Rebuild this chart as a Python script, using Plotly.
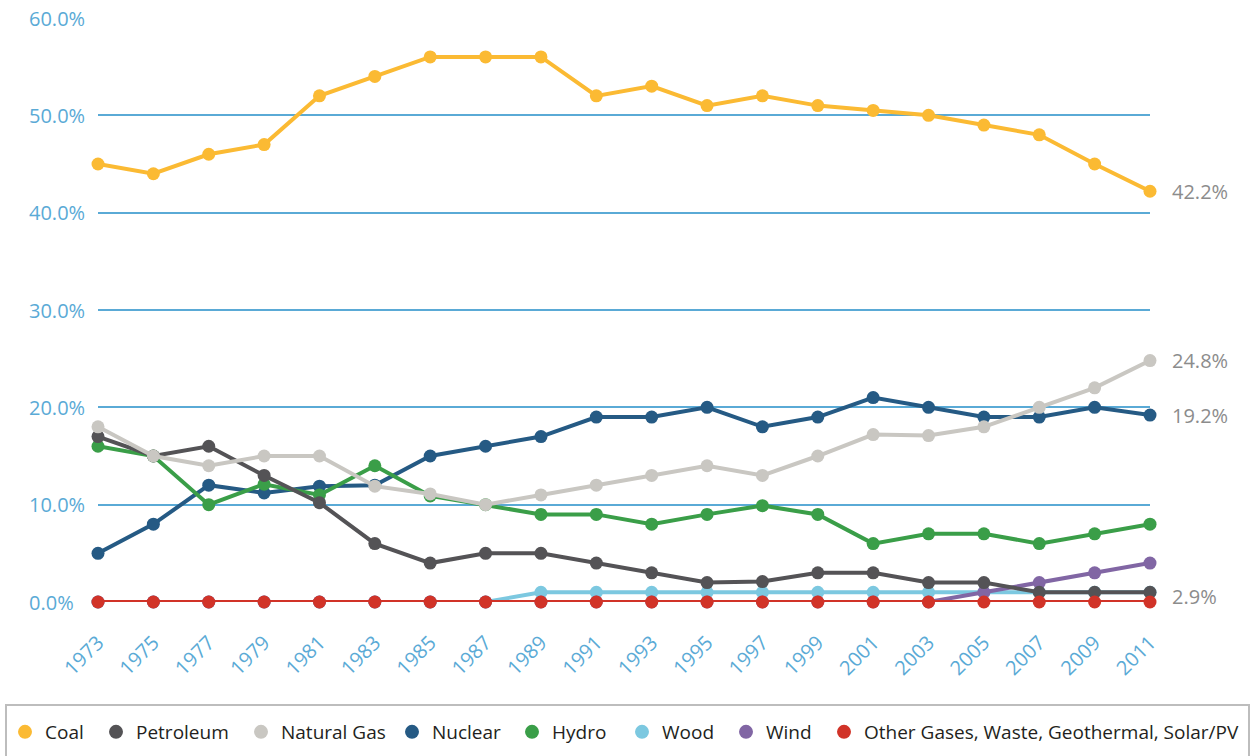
import plotly.graph_objects as go

YEARS = list(range(1973, 2012, 2))

COAL = [45, 44, 46, 47, 52, 54, 56, 56, 56, 52, 53, 51, 52, 51, 50.5, 50, 49, 48, 45, 42.2]
PETROLEUM = [17, 15, 16, 13, 10.2, 6, 4, 5, 5, 4, 3, 2, 2.1, 3, 3, 2, 2, 1, 1, 1]
NATURAL_GAS = [18, 15, 14, 15, 15, 11.9, 11.1, 10, 11, 12, 13, 14, 13, 15, 17.2, 17.1, 18, 20, 22, 24.8]
NUCLEAR = [5, 8, 12, 11.2, 11.9, 12, 15, 16, 17, 19, 19, 20, 18, 19, 21, 20, 19, 19, 20, 19.2]
HYDRO = [16, 15, 10, 12.1, 11, 14, 10.9, 10, 9, 9, 8, 9, 9.9, 9, 6, 7, 7, 6, 7, 8]
WOOD = [0, 0, 0, 0, 0, 0, 0, 0, 1, 1, 1, 1, 1, 1, 1, 1, 1, 1, 1, 1]
WIND = [0, 0, 0, 0, 0, 0, 0, 0, 0, 0, 0, 0, 0, 0, 0, 0, 1, 2, 3, 4]
OTHER = [0] * 20

Y_TICKS = [0, 10, 20, 30, 40, 50, 60]
Y_TICK_TEXT = ["0.0%", "10.0%", "20.0%", "30.0%", "40.0%", "50.0%", "60.0%"]

END_LABELS = [("42.2%", COAL), ("24.8%", NATURAL_GAS), ("19.2%", NUCLEAR), ("2.9%", PETROLEUM)]

SERIES = {
    "Coal": (COAL, "#FBBA33"),
    "Petroleum": (PETROLEUM, "#545356"),
    "Natural Gas": (NATURAL_GAS, "#C9C7C2"),
    "Nuclear": (NUCLEAR, "#255A84"),
    "Hydro": (HYDRO, "#3A9E48"),
    "Wood": (WOOD, "#7CC8E0"),
    "Wind": (WIND, "#8166A4"),
    "Other Gases, Waste, Geothermal, Solar/PV": (OTHER, "#D13328"),
}

# drawing order (bottom to top) differs from the legend order
DRAW_ORDER = ["Wood", "Wind", "Coal", "Nuclear", "Hydro", "Petroleum", "Natural Gas",
              "Other Gases, Waste, Geothermal, Solar/PV"]

# legend dot centres in px (one small legend per entry so spacing matches)
LEGEND_DOT_X = [26, 117, 262, 413, 533, 643, 747, 845]

BLUE = "#5AAAD6"
FONT = "Open Sans"
L, T, W, H = 98, 18, 1052, 584  # plot area in px


def px_x(sx):
    return (sx - L) / W


def px_y(sy):
    return (T + H - sy) / H


fig = go.Figure()

for name in DRAW_ORDER:
    vals, color = SERIES[name]
    fig.add_trace(go.Scatter(
        x=YEARS, y=vals, mode="lines+markers", name=name,
        line=dict(color=color, width=4),
        marker=dict(color=color, size=13),
        cliponaxis=False, showlegend=False,
        hovertemplate=name + " %{x}: %{y}%<extra></extra>",
    ))

legends = {}
for i, (name, (vals, color)) in enumerate(SERIES.items()):
    key = "legend" if i == 0 else f"legend{i + 1}"
    fig.add_trace(go.Scatter(
        x=[None], y=[None], mode="markers", name=name, legend=key,
        marker=dict(color=color, size=14),
    ))
    legends[key] = dict(
        orientation="h", x=px_x(LEGEND_DOT_X[i] - 21), y=px_y(713),
        xanchor="left", yanchor="top",
        font=dict(family=FONT, size=19, color="#231F20"),
        bgcolor="rgba(0,0,0,0)", itemclick=False, itemdoubleclick=False,
    )

# y tick labels are left aligned in the original
for val, text in zip(Y_TICKS, Y_TICK_TEXT):
    fig.add_annotation(
        x=px_x(27), xref="paper", y=val, yref="y", text=text, showarrow=False,
        xanchor="left", font=dict(family=FONT, size=20, color=BLUE),
    )

for text, vals in END_LABELS:
    fig.add_annotation(
        x=YEARS[-1], y=vals[-1], text=text, showarrow=False,
        xanchor="left", xshift=20, yshift=-4 if text == "2.9%" else 0,
        font=dict(family=FONT, size=20, color="#8C8C8C"),
    )

# legend frame, runs off the bottom edge
fig.add_shape(type="rect", xref="paper", yref="paper",
              x0=px_x(6), x1=px_x(1249), y0=px_y(770), y1=px_y(705),
              line=dict(color="#BDBDBD", width=2), fillcolor="rgba(0,0,0,0)")

fig.update_layout(
    width=1254, height=756,
    margin=dict(l=L, r=1254 - L - W, t=T, b=756 - T - H, autoexpand=False),
    plot_bgcolor="white", paper_bgcolor="white",
    font=dict(family=FONT, size=19, color="#231F20"),
    xaxis=dict(
        range=[1973, 2011], tickvals=YEARS, tickangle=-45,
        showgrid=False, zeroline=False, showline=False, automargin=False,
        tickfont=dict(color=BLUE, size=20), ticks="", ticklabelstandoff=24,
    ),
    yaxis=dict(
        range=[0, 60], tickvals=Y_TICKS, showticklabels=False,
        showgrid=True, gridcolor=BLUE, gridwidth=2, zeroline=False, automargin=False,
    ),
    showlegend=True,
    **legends,
)

# drop the default page margin so the figure fills the window exactly
fig.write_html(
    "out.html",
    config={"displayModeBar": False},
    post_script="document.body.style.margin='0';document.body.style.overflow='hidden';",
)
